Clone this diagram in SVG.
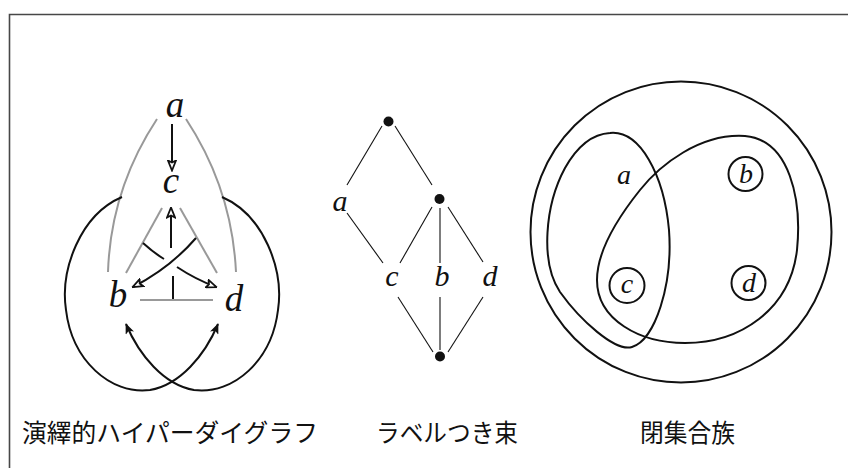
<svg xmlns="http://www.w3.org/2000/svg" width="848" height="468" viewBox="0 0 848 468">
  <style>
    .frame { fill: none; stroke: #474747; stroke-width: 1.6; }
    .ink { fill: none; stroke: #111; stroke-width: 2; }
    .gray { fill: none; stroke: #999; stroke-width: 2; }
    .thin { fill: none; stroke: #111; stroke-width: 1.1; }
    .var { font-family: "Liberation Serif", "DejaVu Serif", serif; font-style: italic; fill: #111; text-anchor: middle; }
    .big { font-size: 37px; }
    .mid { font-size: 30px; }
    .small { font-size: 28px; }
    .cap { font-family: "Noto Sans CJK JP", "Noto Sans", sans-serif; font-size: 25px; fill: #111; }
    .dot { fill: #111; }
  </style>
  <defs>
    <!-- hollow triangular head -->
    <marker id="hollow" viewBox="0 0 12 10" refX="10.5" refY="5" markerWidth="12" markerHeight="10" markerUnits="userSpaceOnUse" orient="auto">
      <path d="M1,1 L11,5 L1,9 L3,5 Z" fill="#fff" stroke="#111" stroke-width="1.8" stroke-linejoin="miter"/>
    </marker>
    <!-- filled stealth head -->
    <marker id="stealth" viewBox="0 0 12 10" refX="11" refY="5" markerWidth="11" markerHeight="9" markerUnits="userSpaceOnUse" orient="auto">
      <path d="M0,0 L12,5 L0,10 L3,5 Z" fill="#111"/>
    </marker>
  </defs>

  <!-- frame -->
  <path class="frame" d="M9.5,468 V14.5 H848"/>

  <!-- deductive hyperdigraph -->
  <g id="hyperdigraph">
    <g id="hg-connectors">
      <path class="gray" d="M157,119 C130,160 110,210 108,272"/>
      <path class="gray" d="M186,119 C213,160 233,210 236,272"/>
      <path class="gray" d="M162,208 L126,273"/>
      <path class="gray" d="M180,208 L217,273"/>
      <path class="gray" d="M140,300 H213"/>
      <path class="ink" d="M173,276 V299"/>
      <path class="ink" d="M172,124 V170" marker-end="url(#hollow)"/>
      <path class="ink" d="M171,248 V208" marker-end="url(#hollow)"/>
      <path class="ink" d="M143,243 Q154,253 164,259"/>
      <path class="ink" d="M177,267 Q195,279 216,287" marker-end="url(#hollow)"/>
      <path class="ink" d="M196,238 Q170,268 133,287" marker-end="url(#hollow)"/>
      <path class="ink" d="M122,197 C80,215 60,270 66,310 C72,360 110,395 150,390 C180,385 205,355 218,324" marker-end="url(#stealth)"/>
      <path class="ink" d="M222,197 C264,215 284,270 278,310 C272,360 234,395 194,390 C164,385 139,355 126,324" marker-end="url(#stealth)"/>
    </g>
    <g id="hg-a"><text class="var big" x="175" y="117">a</text></g>
    <g id="hg-c"><text class="var big" x="171" y="193">c</text></g>
    <g id="hg-b"><text class="var big" x="118" y="307">b</text></g>
    <g id="hg-d"><text class="var big" x="234" y="311">d</text></g>
  </g>

  <!-- labelled lattice -->
  <g id="lattice">
    <g id="lattice-edges">
      <path class="thin" d="M382,126 L347,185"/>
      <path class="thin" d="M395,126 L432,185"/>
      <path class="thin" d="M347,213 L383,263"/>
      <path class="thin" d="M432,207 L400,263"/>
      <path class="thin" d="M440,208 V263"/>
      <path class="thin" d="M448,207 L483,262"/>
      <path class="thin" d="M398,297 L433,352"/>
      <path class="thin" d="M440,297 V350"/>
      <path class="thin" d="M483,297 L448,352"/>
    </g>
    <g id="lattice-top"><circle class="dot" cx="388.5" cy="121.5" r="5"/></g>
    <g id="lattice-bdd"><circle class="dot" cx="439.5" cy="199" r="5"/></g>
    <g id="lattice-bottom"><circle class="dot" cx="440" cy="356.5" r="5"/></g>
    <g id="lattice-a"><text class="var mid" x="340" y="211">a</text></g>
    <g id="lattice-c"><text class="var mid" x="392" y="286">c</text></g>
    <g id="lattice-b"><text class="var mid" x="442" y="286">b</text></g>
    <g id="lattice-d"><text class="var mid" x="490" y="286">d</text></g>
  </g>

  <!-- family of closed sets -->
  <g id="closed-sets">
    <g id="set-all"><circle class="ink" cx="681" cy="232" r="150.5"/></g>
    <g id="set-ac">
      <path class="ink" d="M610,133 C640,130 664,175 669,230 C673,285 655,340 632,347 C615,352 580,320 560,292 C540,262 545,205 565,168 C578,145 592,134 610,133 Z"/>
    </g>
    <g id="set-bcd">
      <path class="ink" d="M597,280 C597,320 640,343 685,343 C740,343 790,310 797,250 C802,200 790,140 745,136 C700,133 660,165 640,190 C620,215 597,250 597,280 Z"/>
    </g>
    <g id="set-a-label"><text class="var small" x="624" y="184">a</text></g>
    <g id="set-b">
      <circle class="ink" cx="745.5" cy="174" r="17"/>
      <text class="var small" x="746" y="183">b</text>
    </g>
    <g id="set-c">
      <circle class="ink" cx="627" cy="285.5" r="17.5"/>
      <text class="var small" x="627" y="293">c</text>
    </g>
    <g id="set-d">
      <circle class="ink" cx="748.5" cy="283" r="17"/>
      <text class="var small" x="749" y="292">d</text>
    </g>
  </g>

  <!-- captions -->
  <g id="captions">
    <text class="cap" x="22" y="442" textLength="296" lengthAdjust="spacingAndGlyphs">演繹的ハイパーダイグラフ</text>
    <text class="cap" x="376" y="442" textLength="142" lengthAdjust="spacingAndGlyphs">ラベルつき束</text>
    <text class="cap" x="640" y="442" textLength="95" lengthAdjust="spacingAndGlyphs">閉集合族</text>
  </g>
</svg>
